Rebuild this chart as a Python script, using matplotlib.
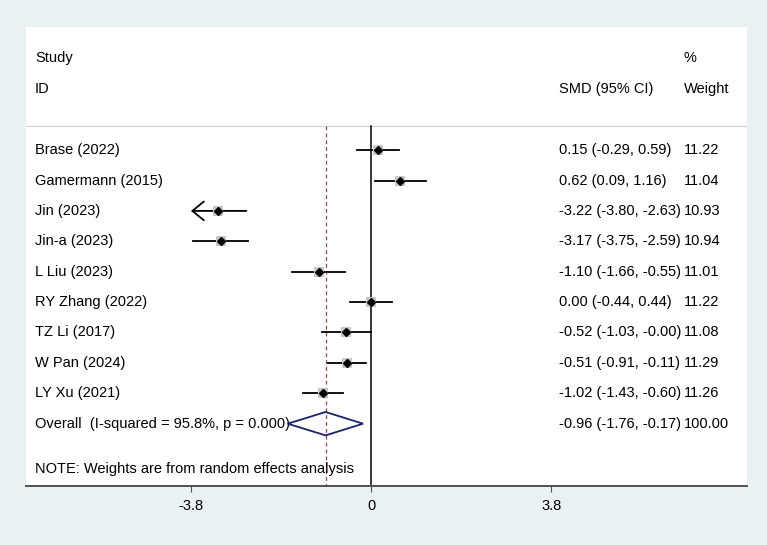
import matplotlib
matplotlib.use('Agg')
import matplotlib.pyplot as plt
from matplotlib.patches import Polygon
from matplotlib.transforms import blended_transform_factory

# study data
studies = ["Brase (2022)", "Gamermann (2015)", "Jin (2023)", "Jin-a (2023)", "L Liu (2023)",
           "RY Zhang (2022)", "TZ Li (2017)", "W Pan (2024)", "LY Xu (2021)"]
smd = [0.15, 0.62, -3.22, -3.17, -1.10, 0.00, -0.52, -0.51, -1.02]
ci_low = [-0.29, 0.09, -3.80, -3.75, -1.66, -0.44, -1.03, -0.91, -1.43]
ci_high = [0.59, 1.16, -2.63, -2.59, -0.55, 0.44, -0.0, -0.11, -0.60]
weights = [11.22, 11.04, 10.93, 10.94, 11.01, 11.22, 11.08, 11.29, 11.26]

overall_label = "Overall  (I-squared = 95.8%, p = 0.000)"
overall_smd = -0.96
overall_low = -1.76
overall_high = -0.17
overall_weight = 100.00

xticks = [-3.8, 0, 3.8]
xticklabels = ["-3.8", "0", "3.8"]

BG = "#eaf1f3"
plt.rcParams['font.family'] = ['Liberation Sans', 'DejaVu Sans']
FS = 10.5

fig = plt.figure(figsize=(7.67, 5.45), dpi=100, facecolor=BG)
ax = fig.add_axes([26 / 767, (545 - 486) / 545, (747 - 26) / 767, (486 - 27) / 545])
ax.set_facecolor("white")
ax.set_xlim(-7.28, 7.93)
ax.set_ylim(11.05, -4.05)

trans = blended_transform_factory(ax.transAxes, ax.transData)
col_study, col_smd, col_wt = 0.0125, 0.739, 0.9126

# header
ax.text(col_study, -3.03, "Study", transform=trans, fontsize=FS, va='center')
ax.text(col_study, -2.0, "ID", transform=trans, fontsize=FS, va='center')
ax.text(col_smd, -2.0, "SMD (95% CI)", transform=trans, fontsize=FS, va='center')
ax.text(col_wt, -3.03, "%", transform=trans, fontsize=FS, va='center')
ax.text(col_wt, -2.0, "Weight", transform=trans, fontsize=FS, va='center')
ax.axhline(-0.79, color="#d2d2d2", lw=0.8)

# reference lines
ax.plot([0, 0], [-0.79, 11.05], color="black", lw=1.1, zorder=2)
ax.plot([overall_smd, overall_smd], [-0.79, 11.05], color="#a5404f", lw=0.9,
        dashes=(3, 2.5), zorder=2)

for i, name in enumerate(studies):
    lo, hi = ci_low[i], ci_high[i]
    if lo <= xticks[0]:
        ax.annotate('', xy=(lo, i), xytext=(hi, i),
                    arrowprops=dict(arrowstyle='->,head_length=0.55,head_width=0.45',
                                    lw=1.3, color='black', mutation_scale=15,
                                    shrinkA=0, shrinkB=0), zorder=3)
    else:
        ax.plot([lo, hi], [i, i], color="black", lw=1.3, zorder=3)
    ax.plot(smd[i], i, marker='s', ms=weights[i] * 0.68, color="#c8c8c8",
            markeredgewidth=0, zorder=3)
    ax.plot(smd[i], i, marker='D', ms=4.2, color="black", zorder=4)
    ax.text(col_study, i, name, transform=trans, fontsize=FS, va='center')
    ax.text(col_smd, i, f"{smd[i]:.2f} ({lo:.2f}, {hi:.2f})", transform=trans,
            fontsize=FS, va='center')
    ax.text(col_wt, i, f"{weights[i]:.2f}", transform=trans, fontsize=FS, va='center')

# overall diamond
yo = len(studies)
diamond = Polygon([(overall_low, yo), (overall_smd, yo - 0.385), (overall_high, yo),
                   (overall_smd, yo + 0.385)], closed=True, fill=False,
                  edgecolor="#1c2266", lw=1.3, zorder=4)
ax.add_patch(diamond)
ax.text(col_study, yo, overall_label, transform=trans, fontsize=FS, va='center')
ax.text(col_smd, yo, f"{overall_smd:.2f} ({overall_low:.2f}, {overall_high:.2f})",
        transform=trans, fontsize=FS, va='center')
ax.text(col_wt, yo, f"{overall_weight:.2f}", transform=trans, fontsize=FS, va='center')

ax.text(col_study, 10.5, "NOTE: Weights are from random effects analysis", transform=trans,
        fontsize=FS, va='center')

# axes styling
for side in ['top', 'left', 'right']:
    ax.spines[side].set_visible(False)
ax.spines['bottom'].set_color("#505050")
ax.spines['bottom'].set_linewidth(1.4)
ax.set_yticks([])
ax.set_xticks(xticks)
ax.set_xticklabels(xticklabels, fontsize=FS)
ax.tick_params(axis='x', length=4, width=0.8, color="#505050", pad=5)

fig.savefig("out.png", dpi=100, facecolor=BG)
